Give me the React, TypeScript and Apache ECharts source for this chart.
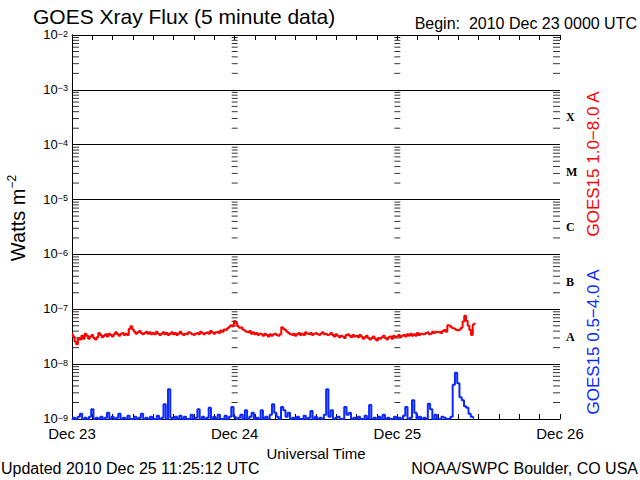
import React, { useEffect, useRef } from 'react';
import * as echarts from 'echarts';

// ---- data ----
const dayLabels = ['Dec 23', 'Dec 24', 'Dec 25', 'Dec 26'];
const classLetters = ['', 'A', 'B', 'C', 'M', 'X', ''];
const yExponentLabels = ['−9', '−8', '−7', '−6', '−5', '−4', '−3', '−2'];
const decadeExponents = [-9, -8, -7, -6, -5, -4, -3];
const minorMultipliers = [2, 3, 4, 5, 6, 7, 8, 9];
const dayBoundaryHours = [24, 48];

// GOES15 1.0-8.0 A, every 15 min from Dec 23 00:00, in units of 1e-8 W/m2
const redStepHours = 0.25;
const redLong_e8 = [
  3.5, 3.2, 2.6, 2.3, 3.0, 2.8, 3.3, 2.9,
  3.6, 3.3, 2.9, 3.2, 3.4, 3.0, 2.8, 3.1,
  3.7, 3.4, 3.1, 3.3, 3.5, 3.2, 3.6, 3.4,
  3.2, 3.5, 3.8, 3.5, 3.3, 3.6, 3.7, 3.4,
  3.6, 3.4, 4.4, 4.9, 4.3, 3.9, 3.6, 3.8,
  4.0, 3.7, 3.5, 3.7, 3.9, 3.6, 3.8, 3.5,
  3.7, 3.5, 3.9, 3.6, 3.4, 3.6, 3.8, 3.5,
  3.7, 3.4, 3.6, 3.8, 3.5, 3.7, 3.4, 3.6,
  3.9, 3.6, 3.4, 3.6, 3.5, 3.8, 3.7, 3.5,
  3.4, 3.6, 3.7, 3.5, 3.9, 3.7, 3.5, 3.7,
  3.8, 3.6, 4.0, 3.8, 3.6, 3.8, 3.9, 3.7,
  4.1, 3.9, 4.3, 4.2, 4.5, 4.8, 5.1, 4.9,
  6.1, 5.6, 4.9, 4.6, 4.7, 4.3, 4.1, 3.9,
  3.8, 4.0, 3.6, 3.8, 3.5, 3.7, 3.4, 3.6,
  3.5, 3.3, 3.6, 3.4, 3.2, 3.5, 3.3, 3.5,
  3.6, 3.4, 3.3, 3.5, 4.7, 4.4, 4.2, 3.9,
  3.7, 3.5, 3.4, 3.6, 3.3, 3.5, 3.7, 3.4,
  3.6, 3.4, 3.8, 3.6, 3.5, 3.7, 3.4, 3.6,
  3.7, 3.5, 3.4, 3.6, 3.8, 3.5, 3.6, 3.4,
  3.5, 3.7, 3.4, 3.2, 3.5, 3.3, 3.1, 3.3,
  3.2, 3.0, 3.4, 3.5, 3.3, 3.1, 3.4, 3.2,
  3.3, 3.1, 3.4, 3.2, 2.9, 3.1, 3.3, 3.0,
  2.8, 3.0, 3.2, 2.9, 2.7, 3.0, 2.9, 3.1,
  3.3, 3.0, 2.8, 3.1, 3.2, 2.9, 3.3, 3.1,
  3.2, 3.4, 3.1, 3.3, 3.4, 3.2, 3.5, 3.3,
  3.6, 3.3, 3.5, 3.3, 3.7, 3.4, 3.6, 3.5,
  3.5, 3.7, 3.8, 3.5, 3.6, 3.9, 3.7, 3.9,
  3.8, 3.9, 3.7, 4.0, 4.2, 3.9, 5.1, 5.0,
  4.7, 4.5, 4.4, 4.2, 4.1, 4.3, 4.6, 6.0,
  7.6, 6.2, 5.0, 4.2, 3.4, 5.3, 5.5,
];

// GOES15 0.5-4.0 A, every 20 min from Dec 23 00:00, in units of 1e-9 W/m2
const blueStepHours = 1 / 3;
const blueShort_e9 = [
  1.0, 1.05, 1.0, 1.1, 1.25, 1.0, 1.05, 1.0, 1.1, 1.5, 1.0, 1.05,
  1.0, 1.1, 1.0, 1.05, 1.3, 1.0, 1.1, 1.0, 1.05, 1.25, 1.0, 1.05,
  1.0, 1.15, 1.0, 1.0, 1.1, 1.0, 1.05, 1.25, 1.0, 1.05, 1.0, 1.1,
  1.0, 1.0, 1.15, 1.0, 1.05, 1.85, 1.0, 3.5, 1.05, 1.0, 1.1, 1.0,
  1.15, 1.0, 1.1, 1.0, 1.0, 1.2, 1.0, 1.05, 1.5, 1.0, 1.1, 1.0,
  1.05, 1.6, 1.0, 1.1, 1.0, 1.2, 1.0, 1.0, 1.15, 1.0, 1.1, 1.65,
  1.1, 1.0, 1.05, 1.2, 1.0, 1.45, 1.0, 1.1, 1.3, 1.0, 1.05, 1.0,
  1.45, 1.0, 1.1, 1.0, 1.2, 1.85, 1.3, 1.1, 1.0, 1.65, 1.45, 1.1,
  1.3, 1.0, 1.05, 1.0, 1.1, 1.0, 1.0, 1.15, 1.0, 1.05, 1.4, 1.0,
  1.1, 1.0, 1.05, 1.0, 1.2, 3.5, 1.1, 1.45, 1.0, 1.05, 1.1, 1.0,
  1.0, 1.65, 1.2, 1.3, 1.0, 1.05, 1.0, 1.1, 1.0, 1.0, 1.15, 1.0,
  1.8, 1.0, 1.05, 1.0, 1.1, 1.0, 1.2, 1.0, 1.05, 1.0, 1.0, 1.1,
  1.0, 1.05, 1.0, 1.15, 1.65, 1.0, 1.05, 2.2, 1.3, 1.0, 1.1, 1.0,
  1.05, 1.0, 1.9, 1.5, 1.0, 1.2, 1.0, 1.0, 1.1, 1.05, 1.0, 1.0,
  1.1, 4.2, 7.0, 4.5, 2.5, 2.2, 1.7, 1.6, 1.25, 1.1, 1.05,
];

const RED_UNIT = 1e-8;
const BLUE_UNIT = 1e-9;
const FONT = 'Liberation Sans';

export default function App() {
  const ref = useRef<HTMLDivElement>(null);
  useEffect(() => {
    if (!ref.current) return;
    const chart = echarts.init(ref.current, undefined, { renderer: 'svg' });

    const redData = redLong_e8.map((v, j) => [j * redStepHours, v * RED_UNIT]);
    const blueData = blueShort_e9.map((v, i) => [i * blueStepHours, v * BLUE_UNIT]);

    const minorValues: number[] = [];
    decadeExponents.forEach((e) => minorMultipliers.forEach((m) => minorValues.push(m * Math.pow(10, e))));

    const tickSeries = (xs: number[], size: number[], offset: number[]) => ({
      type: 'scatter',
      silent: true,
      clip: false,
      symbol: 'rect',
      symbolSize: size,
      symbolOffset: offset,
      itemStyle: { color: '#000' },
      data: xs.flatMap((x) => minorValues.map((v) => [x, v])),
      z: 1,
    });

    chart.setOption({
      animation: false,
      backgroundColor: '#fff',
      grid: { left: 72, right: 80, top: 35, bottom: 61 },
      xAxis: [
        {
          type: 'value', min: 0, max: 72, interval: 24, position: 'bottom',
          axisLine: { lineStyle: { color: '#000', width: 1 } },
          axisTick: { inside: true, length: 5, lineStyle: { color: '#000' } },
          minorTick: { show: true, splitNumber: 8, length: 5, lineStyle: { color: '#000' } },
          splitLine: { show: false },
          axisLabel: {
            formatter: (v: number) => dayLabels[Math.round(v / 24)],
            margin: 7, color: '#000', fontSize: 15, fontFamily: FONT, lineHeight: 15,
          },
          name: 'Universal Time', nameLocation: 'middle', nameGap: 23,
          nameTextStyle: { color: '#000', fontSize: 15, fontFamily: FONT },
        },
        {
          type: 'value', min: 0, max: 72, interval: 24, position: 'top',
          axisLine: { lineStyle: { color: '#000', width: 1 } },
          axisTick: { inside: true, length: 5, lineStyle: { color: '#000' } },
          minorTick: { show: true, splitNumber: 8, length: 5, lineStyle: { color: '#000' } },
          splitLine: { show: false },
          axisLabel: { show: false },
        },
      ],
      yAxis: [
        {
          type: 'log', min: 1e-9, max: 1e-2, splitNumber: 7, position: 'left',
          axisLine: { show: true, lineStyle: { color: '#000' } },
          axisTick: { show: false },
          splitLine: { show: true, lineStyle: { color: '#000', width: 1 } },
          axisLabel: {
            margin: 4,
            formatter: (v: number) => {
              const e = Math.round(Math.log10(v));
              return `{b|10}{s|${yExponentLabels[e + 9]}}`;
            },
            rich: {
              b: { fontSize: 13, fontFamily: FONT, color: '#000', verticalAlign: 'bottom', lineHeight: 12 },
              s: { fontSize: 9, fontFamily: FONT, color: '#000', verticalAlign: 'top', lineHeight: 12, padding: [0, 0, 6, 0] },
            },
          },
        },
        {
          type: 'category', data: classLetters, position: 'right', boundaryGap: true,
          axisLine: { show: true, lineStyle: { color: '#000' } },
          axisTick: { show: false },
          splitLine: { show: false },
          axisLabel: {
            margin: 6, color: '#000', fontSize: 12, fontWeight: 'bold', fontFamily: 'Liberation Serif',
          },
        },
      ],
      series: [
        tickSeries([0], [7, 1], [3.5, 0]),
        tickSeries(dayBoundaryHours, [6, 1], [0, 0]),
        tickSeries([72], [7, 1], [-3.5, 0]),
        {
          type: 'line', name: 'GOES15 1.0-8.0 A', data: redData, step: 'middle',
          showSymbol: false, clip: false, z: 3,
          lineStyle: { color: '#ff0000', width: 2 }, itemStyle: { color: '#ff0000' },
        },
        {
          type: 'line', name: 'GOES15 0.5-4.0 A', data: blueData, step: 'middle',
          showSymbol: false, clip: false, z: 3,
          lineStyle: { color: '#0a28ff', width: 2 }, itemStyle: { color: '#0a28ff' },
        },
      ],
      graphic: [
        { type: 'text', x: 33, y: 16, style: { text: 'GOES Xray Flux (5 minute data)', font: `21px "${FONT}"`, fill: '#000', textVerticalAlign: 'middle' } },
        { type: 'text', x: 637, y: 23, style: { text: 'Begin:  2010 Dec 23 0000 UTC', font: `16px "${FONT}"`, fill: '#000', textAlign: 'right', textVerticalAlign: 'middle' } },
        { type: 'text', x: 1, y: 468, style: { text: 'Updated 2010 Dec 25 11:25:12 UTC', font: `16px "${FONT}"`, fill: '#000', textVerticalAlign: 'middle' } },
        { type: 'text', x: 638, y: 468, style: { text: 'NOAA/SWPC Boulder, CO USA', font: `16px "${FONT}"`, fill: '#000', textAlign: 'right', textVerticalAlign: 'middle' } },
        { type: 'text', x: 593, y: 164, rotation: Math.PI / 2, style: { text: 'GOES15 1.0−8.0 A', font: `17px "${FONT}"`, fill: '#ff0000', textAlign: 'center', textVerticalAlign: 'middle' } },
        { type: 'text', x: 593, y: 342, rotation: Math.PI / 2, style: { text: 'GOES15 0.5−4.0 A', font: `17px "${FONT}"`, fill: '#0a28ff', textAlign: 'center', textVerticalAlign: 'middle' } },
        {
          type: 'text', x: 17, y: 218, rotation: Math.PI / 2,
          style: {
            text: '{n|Watts m}{s|−2}', fill: '#000', textAlign: 'center', textVerticalAlign: 'middle',
            rich: {
              n: { fontSize: 20, fontFamily: FONT, verticalAlign: 'bottom', lineHeight: 22 },
              s: { fontSize: 12, fontFamily: FONT, verticalAlign: 'top', lineHeight: 22, padding: [0, 0, 10, 0] },
            },
          },
        },
      ],
    });
    return () => chart.dispose();
  }, []);
  return <div ref={ref} style={{ position: 'fixed', left: 0, top: 0, width: 640, height: 480 }} />;
}
